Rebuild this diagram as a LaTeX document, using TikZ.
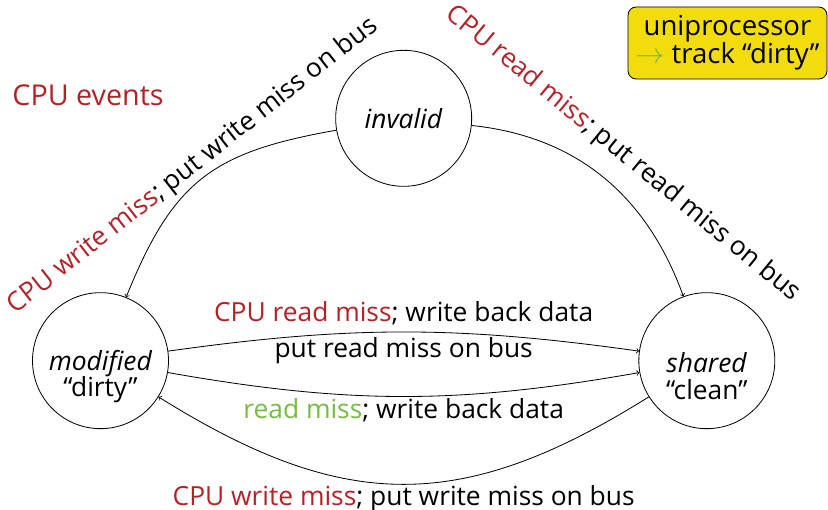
\documentclass[tikz,border=0pt]{standalone}
\usepackage{fontspec}
\setmainfont{Open Sans}
\usetikzlibrary{positioning}
\definecolor{evred}{RGB}{180,34,40}
\definecolor{evgreen}{RGB}{118,188,66}
\definecolor{notebg}{RGB}{243,220,12}

\begin{document}
\begin{tikzpicture}[
    font=\fontsize{22.5}{24}\selectfont,
    state/.style={circle, draw, line width=0.7pt, minimum size=4.08cm, inner sep=0pt},
    stext/.style={align=center, inner sep=0pt, font=\fontsize{22.5}{22.7}\selectfont},
    trans/.style={->, line width=0.7pt},
    lbl/.style={inner sep=1.5pt}
  ]
  \useasboundingbox (0,0) rectangle (24.84,15.3);

  \node[state] (inv) at (12.11,11.75) {\textit{invalid}};
  \node[state] (mod) at (3.015,4.48) {};
  \node[state, right=14.085cm of mod] (sh) {};
  \node[stext] (modtxt) at ([yshift=-0.48cm]mod.center) {\textit{modified}\\“dirty”};
  \node[stext] (shtxt) at ([yshift=-0.46cm]sh.center) {\textit{shared}\\“clean”};

  \node[text=evred, font=\fontsize{24.5}{26}\selectfont] (events) at (2.64,12.45) {CPU events};
  \node[draw, fill=notebg, rounded corners=7pt, line width=0.7pt, minimum width=5.97cm,
        minimum height=2.16cm, align=center, inner sep=2pt,
        font=\fontsize{23.5}{24}\selectfont] (note) at (21.825,14.01)
        {uniprocessor\\\textcolor{evgreen}{$\rightarrow$} track “dirty”};

  \draw[trans] (inv) to[out=190, in=68, looseness=1.2]
    node[lbl, sloped, above] {\textcolor{evred}{CPU write miss}; put write miss on bus} (mod);
  \draw[trans] (inv) to[out=-6, in=110]
    node[lbl, sloped, above=13pt] {\textcolor{evred}{CPU read miss}; put read miss on bus} (sh);
  \draw[trans] (mod) to[bend left=8]
    node[lbl, above=4pt] {\textcolor{evred}{CPU read miss}; write back data}
    node[lbl, below=3pt] {put read miss on bus} (sh);
  \draw[trans] (mod) to[bend right=10]
    node[lbl, below] {\textcolor{evgreen}{read miss}; write back data} (sh);
  \draw[trans] (sh) to[out=212, in=-32, looseness=1.15]
    node[inner sep=0pt, below=1pt] {\textcolor{evred}{CPU write miss}; put write miss on bus} (mod);
\end{tikzpicture}
\end{document}
